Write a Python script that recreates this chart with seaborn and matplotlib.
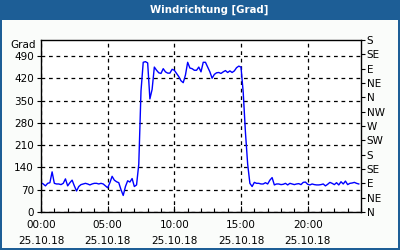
import numpy as np
import pandas as pd
import matplotlib
matplotlib.use("Agg")
import matplotlib.pyplot as plt
from matplotlib.patches import Rectangle
import seaborn as sns

title = "Windrichtung [Grad]"
y_unit = "Grad"
hours_labels = ["00:00", "05:00", "10:00", "15:00", "20:00"]
date_label = "25.10.18"
left_ticks = [0, 70, 140, 210, 280, 350, 420, 490]
right_ticks = [0, 45, 90, 135, 180, 225, 270, 315, 360, 405, 450, 495, 540]
right_labels = ["N", "NE", "E", "SE", "S", "SW", "W", "NW", "N", "NE", "E", "SE", "S"]

# wind direction every 10 minutes, 00:00 .. 23:50
seg_night = [92, 88, 82, 90, 92, 126, 90, 88, 88, 86, 90, 104, 82, 92, 100, 82, 66, 80,
             86, 88, 90, 88, 85, 88, 90, 90, 88, 90, 88, 82, 76, 92, 112, 100, 95, 92,
             70, 52, 80, 98, 94, 105, 80, 85, 150]
seg_day = [380, 470, 472, 468, 355, 385, 455, 445, 437, 435, 450, 440, 436, 436, 448,
           445, 435, 425, 412, 406, 430, 470, 452, 450, 445, 445, 455, 440, 470, 470,
           455, 440, 420, 432, 437, 438, 435, 440, 444, 438, 443, 438, 443, 453, 458,
           455, 375, 250, 150, 90, 80]
seg_evening = [93, 90, 90, 88, 88, 92, 88, 100, 108, 85, 88, 88, 86, 87, 90, 85, 90, 88,
               86, 88, 89, 86, 93, 94, 87, 85, 88, 86, 85, 85, 86, 88, 82, 87, 93, 90,
               86, 92, 85, 95, 88, 97, 86, 90, 91, 93, 90, 88]
values = seg_night + seg_day + seg_evening
times_h = np.arange(len(values)) / 6.0

df = pd.DataFrame({"hour": times_h, "deg": values})

BLUE_FRAME = "#1d5e96"
BG = "#fafcfa"

fig = plt.figure(figsize=(4, 2.5), dpi=100)
fig.patch.set_facecolor(BG)

ax = fig.add_axes([41 / 400, 38 / 250, 320 / 400, 172 / 250])
ax.set_facecolor("white")

sns.lineplot(data=df, x="hour", y="deg", ax=ax, color="#0000ff", linewidth=1.0)

ax.set_xlim(0, 24)
ax.set_ylim(0, 540)
ax.set_xlabel("")
ax.set_ylabel("")

ax.set_xticks([0, 5, 10, 15, 20])
ax.set_xticklabels([f"{h}\n{date_label}" for h in hours_labels], fontsize=7.5,
                   linespacing=1.75)
ax.set_xticks(np.arange(0, 25, 1), minor=True)
ax.tick_params(axis="x", which="major", direction="in", length=4, pad=6, width=0.8)
ax.tick_params(axis="x", which="minor", direction="in", length=3, width=0.8)

ax.set_yticks(left_ticks)
ax.set_yticklabels([str(v) for v in left_ticks], fontsize=7.5)
ax.tick_params(axis="y", which="major", direction="out", length=3, pad=2, width=0.8)
ax.text(-0.015, 525, y_unit, transform=ax.get_yaxis_transform(), ha="right",
        va="center", fontsize=7.5)

for s in ax.spines.values():
    s.set_color("black")
    s.set_linewidth(1.0)

ax.grid(True, which="major", axis="both", color="black", linestyle=(0, (3, 3)),
        linewidth=0.9)
ax.set_axisbelow(True)

ax2 = ax.twinx()
ax2.set_ylim(0, 540)
ax2.set_yticks(right_ticks)
ax2.set_yticklabels(right_labels, fontsize=7.5)
ax2.tick_params(axis="y", direction="out", length=3, pad=1, width=0.8)
for s in ax2.spines.values():
    s.set_visible(False)

# frame: title bar and border
fig.add_artist(Rectangle((0, 230 / 250), 1, 20 / 250, transform=fig.transFigure,
                         facecolor=BLUE_FRAME, edgecolor="none"))
fig.add_artist(Rectangle((0, 0), 2 / 400, 1, transform=fig.transFigure,
                         facecolor=BLUE_FRAME, edgecolor="none"))
fig.add_artist(Rectangle((398 / 400, 0), 2 / 400, 1, transform=fig.transFigure,
                         facecolor=BLUE_FRAME, edgecolor="none"))
fig.add_artist(Rectangle((0, 0), 1, 2 / 250, transform=fig.transFigure,
                         facecolor=BLUE_FRAME, edgecolor="none"))
fig.text(209 / 400, 240 / 250, title, color="white", fontsize=7.3, fontweight="bold",
         ha="center", va="center")

fig.savefig("out.png", dpi=100, facecolor=fig.get_facecolor())
